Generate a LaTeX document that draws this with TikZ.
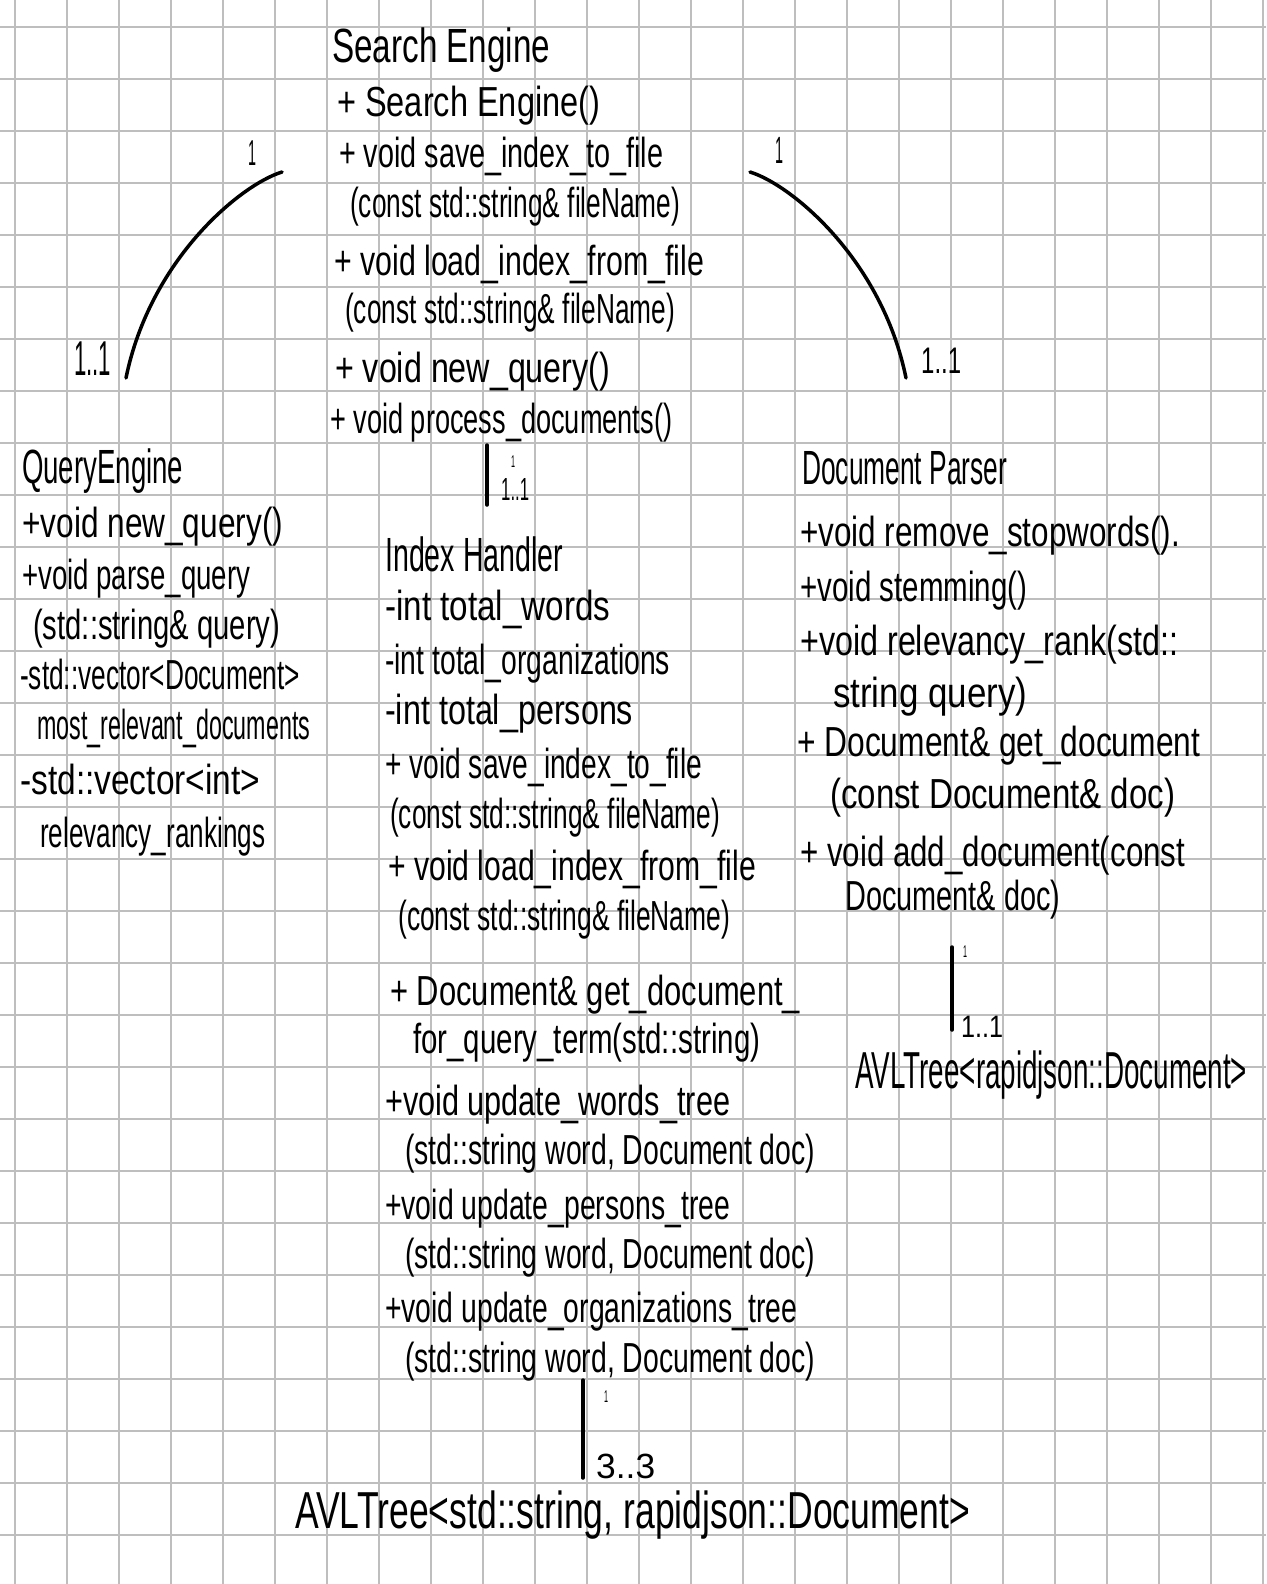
\documentclass[tikz,border=0pt]{standalone}
\usepackage{fontspec}
\setmainfont{Liberation Sans}
\usepackage{graphicx}
\newcommand{\hw}[2]{\resizebox{#1pt}{\height}{#2}}
\begin{document}
\begin{tikzpicture}[x=1pt,y=-1pt,
  gridline/.style={line width=2pt,color={rgb,255:red,190;green,190;blue,190}},
  txt/.style={anchor=base west,inner sep=0pt,font=\fontsize{42}{46}\selectfont},
  ttl/.style={anchor=base west,inner sep=0pt,font=\fontsize{48}{52}\selectfont},
  bigtxt/.style={anchor=base west,inner sep=0pt,font=\fontsize{52}{56}\selectfont},
  mult/.style={anchor=base west,inner sep=0pt},
  conn/.style={line width=3.5pt,line cap=round}]
\useasboundingbox (0,0) rectangle (1266,1584);
\fill[white] (0,0) rectangle (1266,1584);
% grid paper
\foreach \i in {0,...,24} \draw[gridline] ({15+52*\i},0) -- ({15+52*\i},1584);
\foreach \j in {0,...,29} \draw[gridline] (0,{27+52*\j}) -- (1266,{27+52*\j});

% class titles (baselines)
\node[ttl] (se0) at (332,63) {\hw{218}{Search Engine}};
\node[ttl] (qe0) at (22,483) {\hw{161}{QueryEngine}};
\node[ttl] (ih0) at (385,571) {\hw{178}{Index Handler}};
\node[ttl] (dp0) at (802,484) {\hw{205}{Document Parser}};

\begin{scope}[yshift=-17pt]
% Search Engine
\node[txt] (se1) at (337,100) {\hw{263}{+ Search Engine()}};
\node[txt] (se2) at (339,150) {\hw{324}{+ void save\_index\_to\_file}};
\node[txt] (se3) at (350,200) {\hw{330}{(const std::string\& fileName)}};
\node[txt] (se4) at (334,258) {\hw{370}{+ void load\_index\_from\_file}};
\node[txt] (se5) at (345,306) {\hw{330}{(const std::string\& fileName)}};
\node[txt] (se6) at (335,365) {\hw{275}{+ void new\_query()}};
\node[txt] (se7) at (330,416) {\hw{342}{+ void process\_documents()}};

% QueryEngine
\node[txt] (qe1) at (22,520) {\hw{261}{+void new\_query()}};
\node[txt] (qe2) at (22,572) {\hw{228}{+void parse\_query}};
\node[txt] (qe3) at (33,622) {\hw{247}{(std::string\& query)}};
\node[txt] (qe4) at (20,672) {\hw{280}{-std::vector<Document>}};
\node[txt] (qe5) at (37,722) {\hw{273}{most\_relevant\_documents}};
\node[txt] (qe6) at (20,777) {\hw{240}{-std::vector<int>}};
\node[txt] (qe7) at (40,830) {\hw{225}{relevancy\_rankings}};

% Index Handler
\node[txt] (ih1) at (385,603) {\hw{225}{-int total\_words}};
\node[txt] (ih2) at (385,657) {\hw{285}{-int total\_organizations}};
\node[txt] (ih3) at (385,707) {\hw{248}{-int total\_persons}};
\node[txt] (ih4) at (385,761) {\hw{317}{+ void save\_index\_to\_file}};
\node[txt] (ih5) at (390,811) {\hw{330}{(const std::string\& fileName)}};
\node[txt] (ih6) at (388,863) {\hw{368}{+ void load\_index\_from\_file}};
\node[txt] (ih7) at (398,913) {\hw{332}{(const std::string\& fileName)}};
\node[txt] (ih8) at (390,988) {\hw{410}{+ Document\& get\_document\_}};
\node[txt] (ih9) at (413,1036) {\hw{347}{for\_query\_term(std::string)}};
\node[txt] (ih10) at (385,1098) {\hw{345}{+void update\_words\_tree}};
\node[txt] (ih11) at (405,1147) {\hw{410}{(std::string word, Document doc)}};
\node[txt] (ih12) at (385,1202) {\hw{345}{+void update\_persons\_tree}};
\node[txt] (ih13) at (405,1251) {\hw{410}{(std::string word, Document doc)}};
\node[txt] (ih14) at (385,1305) {\hw{412}{+void update\_organizations\_tree}};
\node[txt] (ih15) at (405,1355) {\hw{410}{(std::string word, Document doc)}};

% Document Parser
\node[txt] (dp1) at (800,529) {\hw{380}{+void remove\_stopwords().}};
\node[txt] (dp2) at (800,584) {\hw{227}{+void stemming()}};
\node[txt] (dp3) at (800,638) {\hw{378}{+void relevancy\_rank(std::}};
\node[txt] (dp4) at (833,690) {\hw{194}{string query)}};
\node[txt] (dp5) at (797,739) {\hw{403}{+ Document\& get\_document}};
\node[txt] (dp6) at (830,791) {\hw{345}{(const Document\& doc)}};
\node[txt] (dp7) at (800,849) {\hw{385}{+ void add\_document(const}};
\node[txt] (dp8) at (845,893) {\hw{215}{Document\& doc)}};
\end{scope}

% AVL trees (baselines)
\node[bigtxt] (avr) at (855,1088) {\hw{392}{AVLTree<rapidjson::Document>}};
\node[bigtxt] (avb) at (295,1528) {\hw{675}{AVLTree<std::string, rapidjson::Document>}};

% connector end points
\coordinate (la1) at (282,172);
\coordinate (la2) at (126,378);
\coordinate (ra1) at (750,172);
\coordinate (ra2) at (906,378);
\coordinate (ms1) at (487,445);
\coordinate (ms2) at (487,505);
\coordinate (bs1) at (583,1380);
\coordinate (bs2) at (583,1478);
\coordinate (ds1) at (952,947);
\coordinate (ds2) at (952,1030);

\draw[conn] (la1) .. controls (240,185) and (150,260) .. (la2);
\draw[conn] (ra1) .. controls (792,185) and (882,260) .. (ra2);
\draw[conn] (ms1) -- (ms2);
\draw[conn] (bs1) -- (bs2);
\draw[conn] (ds1) -- (ds2);

% multiplicities (baselines)
\node[mult,anchor=base,font=\fontsize{36}{40}\selectfont] (m1) at (252,165) {\hw{8}{1}};
\node[mult,anchor=base,font=\fontsize{38}{42}\selectfont] (m2) at (779,164) {\hw{8}{1}};
\node[mult,font=\fontsize{49}{52}\selectfont] (m3) at (74,375) {\hw{37}{1..1}};
\node[mult,font=\fontsize{37}{40}\selectfont] (m4) at (921,373) {\hw{40}{1..1}};
\node[mult,anchor=base,font=\fontsize{17}{18}\selectfont] (m5) at (513,467) {\hw{4}{1}};
\node[mult,font=\fontsize{32}{36}\selectfont] (m6) at (501,500) {\hw{28}{1..1}};
\node[mult,anchor=base,font=\fontsize{17}{18}\selectfont] (m7) at (606,1402) {\hw{4}{1}};
\node[mult,font=\fontsize{35}{38}\selectfont] (m8) at (596,1478) {\hw{59}{3..3}};
\node[mult,anchor=base,font=\fontsize{17}{18}\selectfont] (m9) at (965,957) {\hw{4}{1}};
\node[mult,font=\fontsize{31}{34}\selectfont] (m10) at (961,1037) {\hw{42}{1..1}};
\end{tikzpicture}
\end{document}
